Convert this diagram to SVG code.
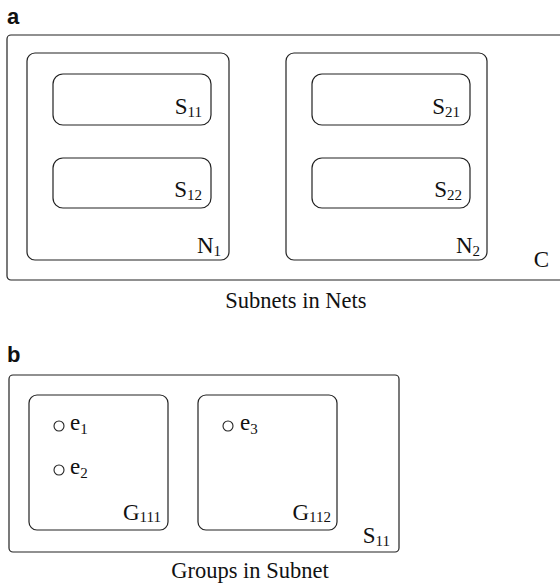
<svg xmlns="http://www.w3.org/2000/svg" width="560" height="586" viewBox="0 0 560 586">
<style>
.box{fill:none;stroke:#222;stroke-width:1.2}
.lbl{font-family:"Liberation Serif","Times New Roman",serif;font-size:23px;fill:#111}
.sub{font-size:15px}
.cap{font-family:"Liberation Serif","Times New Roman",serif;font-size:22.5px;fill:#111;text-anchor:middle}
.pan{font-family:"Liberation Sans",Arial,sans-serif;font-size:22px;font-weight:bold;fill:#111}
.dot{fill:none;stroke:#222;stroke-width:1.1}
</style>
<rect width="560" height="586" fill="#fff"/>
<text class="pan" x="7" y="24">a</text>
<g id="C"><rect class="box" x="7" y="35" width="560" height="245" rx="4"/><text class="lbl" x="549" y="267" text-anchor="end">C</text></g>
<g id="N1"><rect class="box" x="27" y="53" width="202" height="207" rx="8"/><text class="lbl" x="221" y="253" text-anchor="end">N<tspan class="sub" dy="3">1</tspan></text></g>
<g id="S11a"><rect class="box" x="53" y="74" width="158" height="51" rx="10"/><text class="lbl" x="202" y="114" text-anchor="end">S<tspan class="sub" dy="3">11</tspan></text></g>
<g id="S12"><rect class="box" x="53" y="158" width="158" height="50" rx="10"/><text class="lbl" x="202" y="197" text-anchor="end">S<tspan class="sub" dy="3">12</tspan></text></g>
<g id="N2"><rect class="box" x="286" y="53" width="201" height="207" rx="8"/><text class="lbl" x="480" y="253" text-anchor="end">N<tspan class="sub" dy="3">2</tspan></text></g>
<g id="S21"><rect class="box" x="312" y="74" width="158" height="51" rx="10"/><text class="lbl" x="460" y="114" text-anchor="end">S<tspan class="sub" dy="3">21</tspan></text></g>
<g id="S22"><rect class="box" x="312" y="158" width="158" height="50" rx="10"/><text class="lbl" x="462" y="197" text-anchor="end">S<tspan class="sub" dy="3">22</tspan></text></g>
<text class="cap" x="296" y="308">Subnets in Nets</text>
<text class="pan" x="7" y="362">b</text>
<g id="S11b"><rect class="box" x="9" y="375" width="390" height="177" rx="4"/><text class="lbl" x="390" y="543" text-anchor="end">S<tspan class="sub" dy="3">11</tspan></text></g>
<g id="G111"><rect class="box" x="29" y="395" width="139" height="135" rx="8"/><text class="lbl" x="161" y="520" text-anchor="end">G<tspan class="sub" dy="2">111</tspan></text></g>
<g id="G112"><rect class="box" x="198" y="395" width="139" height="135" rx="8"/><text class="lbl" x="331" y="520" text-anchor="end">G<tspan class="sub" dy="2">112</tspan></text></g>
<g id="e1"><circle class="dot" cx="59" cy="426" r="5"/><text class="lbl" x="70" y="430">e<tspan class="sub" dy="4">1</tspan></text></g>
<g id="e2"><circle class="dot" cx="59" cy="470" r="5"/><text class="lbl" x="70" y="474">e<tspan class="sub" dy="4">2</tspan></text></g>
<g id="e3"><circle class="dot" cx="228" cy="426" r="5"/><text class="lbl" x="240" y="430">e<tspan class="sub" dy="4">3</tspan></text></g>
<text class="cap" x="250" y="578">Groups in Subnet</text>
<g id="connectors"/>
</svg>
